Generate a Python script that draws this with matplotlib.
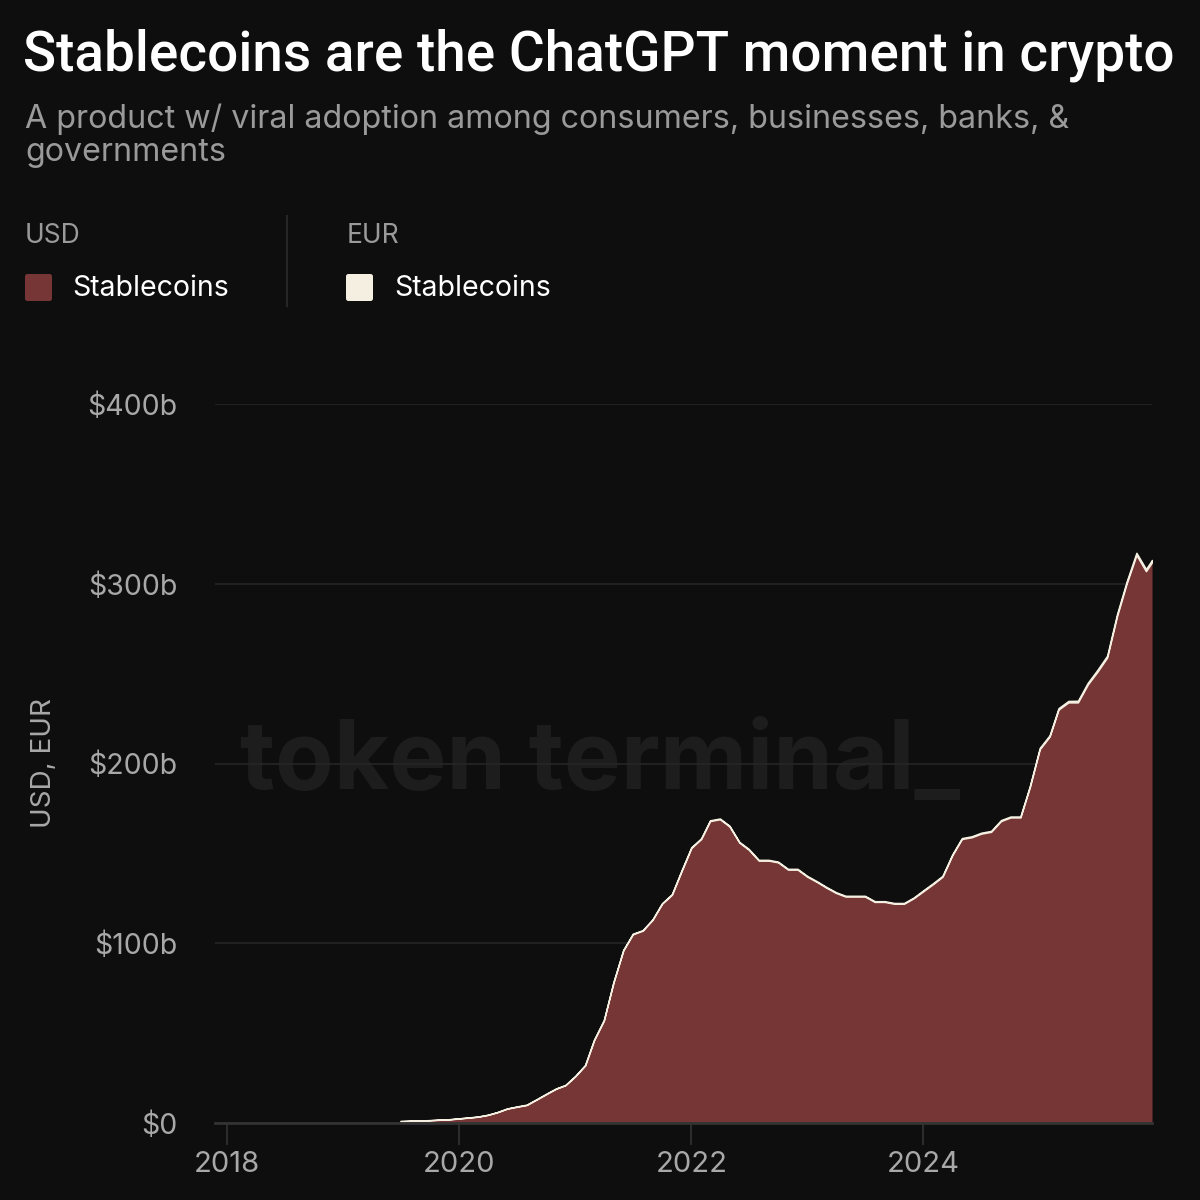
import matplotlib.pyplot as plt
import matplotlib.dates as mdates
from matplotlib.patches import FancyBboxPatch
from matplotlib.lines import Line2D
import numpy as np

# monthly supply, $b, Jul 2019 .. Dec 2025
months = np.arange('2019-07', '2026-01', dtype='datetime64[M]').astype('datetime64[D]')
usd = [1.0, 1.2, 1.3, 1.5, 1.8, 2.0,
       2.5, 3.0, 3.5, 4.5, 6, 8, 9, 10, 13, 16, 19, 21,
       26, 32, 46, 57, 78, 96, 105, 107, 113, 122, 127, 140,
       153, 158, 168, 169, 165, 156, 152, 146, 146, 145, 141, 141,
       137, 134, 131, 128, 126, 126, 126, 123, 123, 122, 122, 125,
       129, 133, 137, 149, 158, 159, 161, 162, 168, 170, 170, 187,
       208, 215, 230, 234, 234, 244, 251, 259, 282, 300, 316, 307]
eur = [0.1, 0.1, 0.1, 0.1, 0.1, 0.1,
       0.1, 0.1, 0.1, 0.1, 0.1, 0.1, 0.2, 0.2, 0.2, 0.2, 0.2, 0.2,
       0.2, 0.3, 0.3, 0.3, 0.3, 0.3, 0.3, 0.3, 0.3, 0.3, 0.3, 0.4,
       0.4, 0.4, 0.4, 0.4, 0.4, 0.4, 0.4, 0.4, 0.4, 0.4, 0.4, 0.4,
       0.4, 0.4, 0.4, 0.4, 0.4, 0.4, 0.4, 0.4, 0.4, 0.4, 0.4, 0.4,
       0.5, 0.5, 0.5, 0.5, 0.5, 0.5, 0.5, 0.5, 0.5, 0.5, 0.5, 0.6,
       0.7, 0.7, 0.8, 0.8, 0.9, 0.9, 1.0, 1.0, 1.1, 1.1, 1.2, 1.2]
last_day = np.datetime64('2025-12-20')
usd_last = 312
eur_last = 1.2

yticks = [0, 100, 200, 300, 400]
ytick_labels = ['$0', '$100b', '$200b', '$300b', '$400b']
years = [2018, 2020, 2022, 2024]

BG = '#0e0e0e'
RED = '#773636'
CREAM = '#f4efe0'
GRAY = '#9a9a9a'
TICK = '#a8a8a8'
GRID = '#262626'

plt.rcParams['font.family'] = ['Inter', 'DejaVu Sans']

fig = plt.figure(figsize=(12, 12), dpi=100, facecolor=BG)

fig.text(23 / 1200, 1 - 55 / 1200, 'Stablecoins are the ChatGPT moment in crypto',
         color='white', fontsize=39.5, fontweight='medium', va='center', ha='left',
         family=['Roboto', 'DejaVu Sans'])
fig.text(25 / 1200, 1 - 119 / 1200, 'A product w/ viral adoption among consumers, businesses, banks, &',
         color=GRAY, fontsize=23.2, va='center', ha='left')
fig.text(25 / 1200, 1 - 153 / 1200, 'governments',
         color=GRAY, fontsize=23.2, va='center', ha='left')

# legend groups
fig.text(25 / 1200, 1 - 236 / 1200, 'USD', color=GRAY, fontsize=19, va='center')
fig.text(347 / 1200, 1 - 236 / 1200, 'EUR', color=GRAY, fontsize=19, va='center')
for x0, col in [(25, RED), (346, CREAM)]:
    fig.patches.append(FancyBboxPatch((x0 / 1200, 1 - 301 / 1200), 27 / 1200, 27 / 1200,
                                      boxstyle='round,pad=0,rounding_size=0.002',
                                      transform=fig.transFigure, facecolor=col, edgecolor='none'))
fig.text(72 / 1200, 1 - 288 / 1200, 'Stablecoins', color='white', fontsize=20.5, va='center')
fig.text(394 / 1200, 1 - 288 / 1200, 'Stablecoins', color='white', fontsize=20.5, va='center')
fig.lines.append(Line2D([287 / 1200, 287 / 1200], [1 - 216 / 1200, 1 - 306 / 1200],
                        transform=fig.transFigure, color='#262626', lw=1.5))

ax = fig.add_axes([215 / 1200, 1 - 1123 / 1200, (1152 - 215) / 1200, (1123 - 404) / 1200])
ax.set_facecolor(BG)

ax.text(0.411, 0.50, 'token terminal_', transform=ax.transAxes, fontsize=69,
        fontweight='bold', color='#1d1d1d', ha='center', va='center', zorder=0)

x = np.append(months, last_day)
y1 = np.append(np.array(usd, dtype=float), usd_last)
y2 = y1 + np.append(np.array(eur, dtype=float), eur_last)
ax.fill_between(x, 0, y1, color=RED, lw=0, zorder=2)
ax.fill_between(x, y1, y2, facecolor=CREAM, edgecolor=CREAM, lw=1.1, zorder=3)

ax.set_ylim(0, 400)
ax.set_xlim(np.datetime64('2017-11-25'), last_day)
ax.set_yticks(yticks)
ax.set_yticklabels(ytick_labels)
ax.set_xticks([np.datetime64(f'{yy}-01-01') for yy in years])
ax.xaxis.set_major_formatter(mdates.DateFormatter('%Y'))

ax.grid(axis='y', color=GRID, lw=1.2, zorder=1)
for s in ['top', 'right', 'left']:
    ax.spines[s].set_visible(False)
ax.spines['bottom'].set_color('#333333')
ax.spines['bottom'].set_linewidth(2)
ax.spines['bottom'].set_zorder(4)

ax.tick_params(axis='y', length=0, pad=27, labelsize=20.5, labelcolor=TICK)
ax.tick_params(axis='x', length=16, width=1.2, color='#333333', pad=4,
               labelsize=21, labelcolor=TICK)

ax.set_ylabel('USD, EUR', color=TICK, fontsize=20)
ax.yaxis.set_label_coords(-0.169, 0.5)

fig.savefig('out.png', dpi=100, facecolor=BG)
